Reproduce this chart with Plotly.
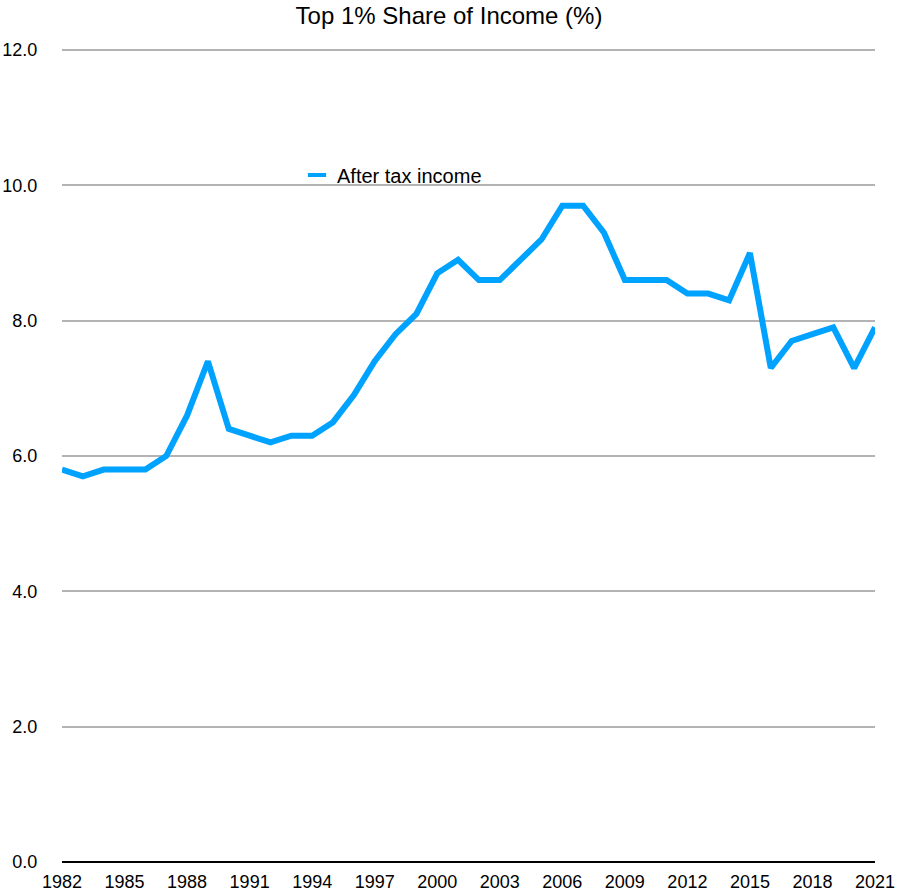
import plotly.graph_objects as go

years = list(range(1982, 2022))
after_tax = [5.8, 5.7, 5.8, 5.8, 5.8, 6.0, 6.6, 7.4, 6.4, 6.3,
             6.2, 6.3, 6.3, 6.5, 6.9, 7.4, 7.8, 8.1, 8.7, 8.9,
             8.6, 8.6, 8.9, 9.2, 9.7, 9.7, 9.3, 8.6, 8.6, 8.6,
             8.4, 8.4, 8.3, 9.0, 7.3, 7.7, 7.8, 7.9, 7.3, 7.9]
x_ticks = list(range(1982, 2022, 3))
y_ticks = [0, 2, 4, 6, 8, 10, 12]
y_labels = ["0.0", "2.0", "4.0", "6.0", "8.0", "10.0", "12.0"]

font_family = "Liberation Sans, Arial, Helvetica, sans-serif"
line_color = "#00A2FF"

fig = go.Figure()
fig.add_trace(go.Scatter(
    x=years, y=after_tax, mode="lines", name="After tax income",
    line=dict(color=line_color, width=6), cliponaxis=False, showlegend=False,
))
# legend entry with a short line sample
fig.add_trace(go.Scatter(
    x=[None], y=[None], mode="markers", name="After tax income",
    marker=dict(symbol="line-ew", size=13, color=line_color,
                line=dict(color=line_color, width=4)),
    showlegend=True,
))

W, H = 898, 894
L, R, T, B = 62, 23, 46, 32
pw, ph = W - L - R, H - T - B
unit = (H - B - 50) / 12.0          # 12.0 gridline sits at y=50
y_top = ph / unit

fig.update_layout(
    width=W, height=H,
    paper_bgcolor="white", plot_bgcolor="white",
    margin=dict(l=L, r=R, t=T, b=B),
    title=dict(text="Top 1% Share of Income (%)", x=0.5, xanchor="center",
               y=1 - 16 / H, yanchor="middle",
               font=dict(family=font_family, size=24, color="black")),
    font=dict(family=font_family, size=18, color="black"),
    showlegend=True,
    legend=dict(x=(297 - L) / pw, xanchor="left", y=(H - B - 175) / ph, yanchor="middle",
                bgcolor="rgba(0,0,0,0)", font=dict(size=20),
                itemwidth=30),
    xaxis=dict(range=[1982, 2021], tickvals=x_ticks, ticktext=[str(v) for v in x_ticks],
               showgrid=False, zeroline=False, showline=False, automargin=False,
               ticks="outside", ticklen=3, tickcolor="rgba(0,0,0,0)",
               tickfont=dict(size=18)),
    yaxis=dict(range=[0, y_top], tickvals=y_ticks, ticktext=y_labels,
               showgrid=True, gridcolor="#b3b3b3", gridwidth=1.5,
               zeroline=True, zerolinecolor="black", zerolinewidth=2,
               showline=False, automargin=False, ticks="outside", ticklen=20,
               tickcolor="rgba(0,0,0,0)", tickfont=dict(size=18)),
)

fig.write_html("out.html", config={"displayModeBar": False},
               post_script="document.body.style.margin='0';document.body.style.overflow='hidden';")
